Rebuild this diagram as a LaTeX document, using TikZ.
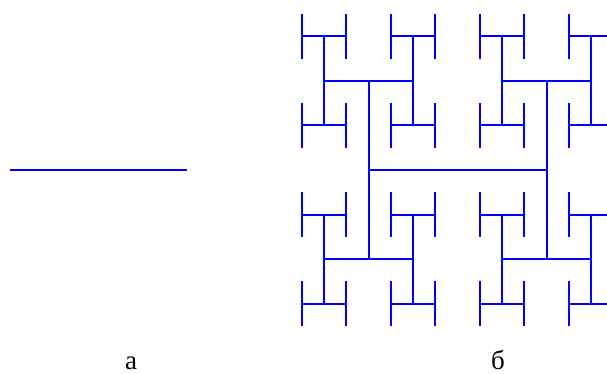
\documentclass[tikz,border=0pt]{standalone}
\usepackage{fontspec}
\setmainfont{Liberation Serif}
\begin{document}
\begin{tikzpicture}[x=1pt,y=-1pt,
  seg/.style={draw=blue,line width=2pt},
  lbl/.style={anchor=base,inner sep=0pt,font=\fontsize{27}{29}\selectfont}]
\useasboundingbox (0,0) rectangle (607,374);
\clip (0,0) rectangle (607,374);
% stage a
\draw[seg] (9.5,170) -- (186.5,170);
% stage b: H-tree
\def\cx{457.5}\def\cy{170}
\draw[seg] ({\cx-89},\cy) -- ({\cx+89},\cy);
\foreach \a in {-1,1}{
  \pgfmathsetmacro\xa{\cx+\a*89}
  \draw[seg] (\xa,{\cy-89}) -- (\xa,{\cy+89});
  \foreach \b in {-1,1}{
    \pgfmathsetmacro\yb{\cy+\b*89}
    \draw[seg] ({\xa-44.5},\yb) -- ({\xa+44.5},\yb);
    \foreach \c in {-1,1}{
      \pgfmathsetmacro\xc{\xa+\c*44.5}
      \draw[seg] (\xc,{\yb-44.5}) -- (\xc,{\yb+44.5});
      \foreach \d in {-1,1}{
        \pgfmathsetmacro\yd{\yb+\d*44.5}
        \draw[seg] ({\xc-22.25},\yd) -- ({\xc+22.25},\yd);
        \foreach \e in {-1,1}{
          \pgfmathsetmacro\xe{\xc+\e*22.25}
          \draw[seg] (\xe,{\yd-22.25}) -- (\xe,{\yd+22.25});
        }
      }
    }
  }
}
\node[lbl] (la) at (131,369.5) {а};
\node[lbl] (lb) at (498,369.5) {б};
\end{tikzpicture}
\end{document}
